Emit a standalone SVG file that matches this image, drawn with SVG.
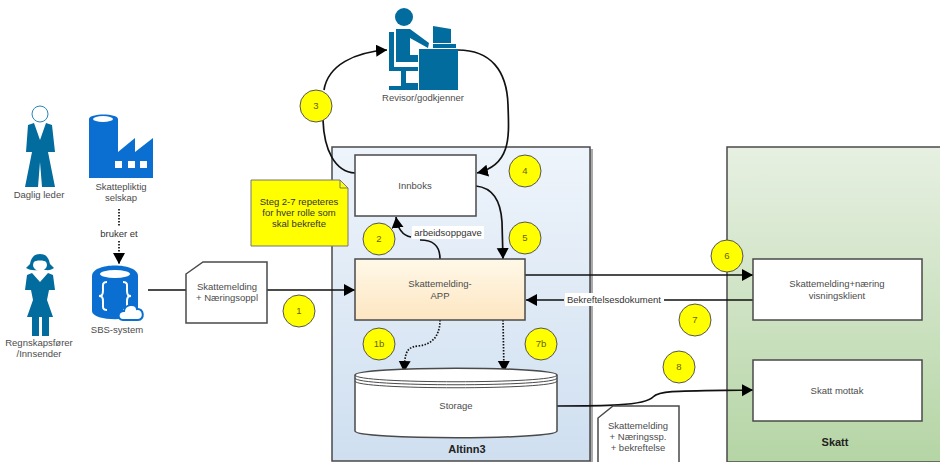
<svg xmlns="http://www.w3.org/2000/svg" width="940" height="462" viewBox="0 0 940 462">
<style>
text{font-family:"Liberation Sans",Arial,sans-serif;font-size:9.5px;fill:#4c4c4c;text-anchor:middle}
.b{font-weight:bold;font-size:11px;fill:#222}
.n{fill:#fff;stroke:#4a4a4a;stroke-width:1.5}
.c{fill:#ff0;stroke:#555;stroke-width:1}
.ct{fill:#665f10;font-size:9.5px}
.l{fill:none;stroke:#111;stroke-width:1.7}
.d{fill:none;stroke:#111;stroke-width:1.7;stroke-dasharray:1.5 1.5}
.i{fill:#036c9e}
.a{fill:#0a6fd0}
.br{fill:none;stroke:#fff;stroke-width:2}
</style>
<defs>
<linearGradient id="gb" x1="0" y1="0" x2="0" y2="1"><stop offset="0" stop-color="#eef4fb"/><stop offset="1" stop-color="#cfdff0"/></linearGradient>
<linearGradient id="gg" x1="0" y1="0" x2="0" y2="1"><stop offset="0" stop-color="#e7f0e2"/><stop offset="1" stop-color="#b5d5a5"/></linearGradient>
<linearGradient id="go" x1="0" y1="0" x2="0" y2="1"><stop offset="0" stop-color="#fff8e8"/><stop offset="1" stop-color="#fde6c2"/></linearGradient>
<marker id="ar" markerUnits="userSpaceOnUse" markerWidth="13" markerHeight="13" refX="11" refY="6" orient="auto"><path d="M0 0L11 6L0 12Z" fill="#000"/></marker>
</defs>

<g id="altinn3">
<rect x="590" y="149" width="3" height="313" fill="#aaa"/>
<rect x="332" y="147" width="258" height="314" fill="url(#gb)" stroke="#4a4a4a" stroke-width="1.500"/>
<text class="b" x="467" y="453">Altinn3</text>
</g>
<g id="skatt">
<rect x="727" y="147" width="215" height="315" fill="url(#gg)" stroke="#4a4a4a" stroke-width="1.500"/>
<text class="b" x="835" y="446">Skatt</text>
</g>

<g id="connectors">
<path class="d" d="M119 209V227"/>
<path class="d" d="M119 241V264" marker-end="url(#ar)"/>
<path class="l" d="M148 290H186M267 290H355" marker-end="url(#ar)"/>
<path class="l" d="M355 173C335 172 324 150 323 120M324 90C328 65 355 52 387 50" marker-end="url(#ar)"/>
<path class="l" d="M458 50C490 50 507 70 508 105C509 135 512 165 477 173" marker-end="url(#ar)"/>
<path class="l" d="M476 186C495 188 501 205 502 222L503 259" marker-end="url(#ar)"/>
<path class="l" d="M440 259C440 245 433 240 420 240" />
<path class="l" d="M411 237C405 236 398 231 396 217" marker-end="url(#ar)"/>
<path class="l" d="M525 275H753" marker-end="url(#ar)"/>
<path class="l" d="M753 300H664M564 300H526" marker-end="url(#ar)"/>
<path class="d" d="M440 320C440 338 430 345 418 346C405 347 405 355 404 372" marker-end="url(#ar)"/>
<path class="d" d="M503 320L504 372" marker-end="url(#ar)"/>
<path class="l" d="M557 406C600 406 645 406 653 397C660 390 680 391 753 390" marker-end="url(#ar)"/>
<rect x="412" y="226" width="72" height="13" fill="#fff"/>
<text x="448" y="236" style="fill:#333">arbeidsoppgave</text>
<rect x="565" y="293" width="98" height="13" fill="#fff"/>
<text x="614" y="303" style="fill:#333">Bekreftelsesdokument</text>
<text x="119" y="237" style="fill:#333">bruker et</text>
</g>

<g id="daglig-leder">
<path class="i" d="M34 123L40 140L46 123L52 125L55 152H48L55 187H42L40 162L38 187H25L32 152H26L28 125Z"/>
<circle cx="40" cy="114" r="8" fill="#fff" stroke="#2a86b5" stroke-width="1"/>
<text x="39" y="198">Daglig leder</text>
</g>
<g id="regnskapsforer">
<path class="i" d="M32 273L40 282L48 273L53 275L55 290H49L47 300L53 317H49V336H42V317H39V336H32V317H27L33 300L31 290H25L27 275Z"/>
<path class="i" d="M40 254C47 254 49 259 50 264L54 268C50 271 47 270 45 270C33 270 31 271 26 268L30 264C31 259 33 254 40 254Z"/>
<ellipse cx="40" cy="265" rx="7" ry="6" fill="#fff"/>
<path class="i" d="M33 262C36 260 44 260 47 262L46 258H34Z"/>
<text x="39" y="346">Regnskapsfører</text>
<text x="39" y="357">/Innsender</text>
</g>
<g id="skattepliktig">
<path class="a" d="M89 119C89 113 118 113 118 119V152L135 138V152L153 138V178H89Z"/>
<ellipse cx="103" cy="119" rx="10" ry="3" fill="#fff"/>
<rect x="115" y="161" width="7" height="7" fill="#fff"/><rect x="128" y="161" width="7" height="7" fill="#fff"/><rect x="140" y="161" width="7" height="7" fill="#fff"/>
<text x="121" y="190">Skattepliktig</text>
<text x="121" y="201">selskap</text>
</g>
<g id="sbs-system">
<path class="a" d="M92 276C92 262 138 262 138 276V311C138 322 92 322 92 311Z"/>
<ellipse cx="115" cy="274" rx="15" ry="4" fill="#fff"/>
<path class="br" d="M107 282C102 282 103 285 103 290C103 295 102 296 99 296C102 296 103 297 103 302C103 307 102 310 107 310"/>
<path class="br" d="M123 282C128 282 127 285 127 290C127 295 128 296 131 296C128 296 127 297 127 302C127 307 128 310 123 310"/>
<path d="M123 320C117 320 117 311 124 311C125 304 136 303 137 309C144 308 145 320 138 320Z" fill="#fff" stroke="#0a6fd0" stroke-width="2"/>
<text x="117" y="333">SBS-system</text>
</g>
<g id="doc-1">
<path class="n" d="M186 274L203 262H267V323H186Z"/>
<text x="227" y="290">Skattemelding</text>
<text x="227" y="301">+ Næringsoppl</text>
</g>
<g id="note">
<path d="M251 180H340L348 188V246H251Z" fill="#ff0" stroke="#777" stroke-width="1"/>
<path d="M340 180V188H348" fill="none" stroke="#777" stroke-width="1"/>
<text x="299" y="205" style="fill:#333">Steg 2-7 repeteres</text>
<text x="299" y="216" style="fill:#333">for hver rolle som</text>
<text x="299" y="227" style="fill:#333">skal bekrefte</text>
</g>
<g id="revisor">
<circle cx="404" cy="17" r="9" class="i"/>
<path class="i" d="M396 29H410L429 43L428 48L410 38V55H418V62H396V29Z"/>
<path class="i" d="M389 32H394V67H418V71H406V83H418V90H389V86H401V71H389Z"/>
<rect class="i" x="419" y="49" width="39" height="41"/>
<path class="i" d="M433 26L451 29V43H433Z"/>
<rect class="i" x="433" y="44" width="23" height="4"/>
<text x="423" y="101">Revisor/godkjenner</text>
</g>
<g id="innboks">
<rect class="n" x="355" y="155" width="121" height="61"/>
<text x="415" y="189">Innboks</text>
</g>
<g id="app">
<rect x="355" y="259" width="170" height="61" fill="url(#go)" stroke="#4a4a4a" stroke-width="1.500"/>
<text x="440" y="287">Skattemelding-</text>
<text x="440" y="299">APP</text>
</g>
<g id="storage">
<path class="n" d="M355 375C355 366 557 366 557 375V431C557 440 355 440 355 431Z"/>
<path d="M355 375C355 384 557 384 557 375M355 378C355 387 557 387 557 378M355 381C355 390 557 390 557 381" fill="none" stroke="#4a4a4a" stroke-width="1"/>
<text x="456" y="409">Storage</text>
</g>
<g id="doc-2">
<path class="n" d="M598 418L613 406H679V464H598Z"/>
<text x="638" y="429">Skattemelding</text>
<text x="638" y="440">+ Næringssp.</text>
<text x="638" y="451">+ bekreftelse</text>
</g>
<g id="visningsklient">
<rect class="n" x="753" y="259" width="169" height="61"/>
<text x="837" y="287">Skattemelding+næring</text>
<text x="837" y="299">visningsklient</text>
</g>
<g id="skatt-mottak">
<rect class="n" x="753" y="360" width="169" height="61"/>
<text x="837" y="394">Skatt mottak</text>
</g>
<g id="s3"><circle class="c" cx="316" cy="106" r="16"/><text class="ct" x="316" y="109">3</text></g>
<g id="s4"><circle class="c" cx="525" cy="171" r="16"/><text class="ct" x="525" y="174">4</text></g>
<g id="s2"><circle class="c" cx="379" cy="239" r="16"/><text class="ct" x="379" y="242">2</text></g>
<g id="s5"><circle class="c" cx="525" cy="238" r="16"/><text class="ct" x="525" y="241">5</text></g>
<g id="s1"><circle class="c" cx="299" cy="311" r="16"/><text class="ct" x="299" y="314">1</text></g>
<g id="s1b"><circle class="c" cx="379" cy="344" r="16"/><text class="ct" x="379" y="347">1b</text></g>
<g id="s7b"><circle class="c" cx="541" cy="344" r="16"/><text class="ct" x="541" y="347">7b</text></g>
<g id="s6"><circle class="c" cx="727" cy="256" r="16"/><text class="ct" x="727" y="259">6</text></g>
<g id="s7"><circle class="c" cx="695" cy="320" r="16"/><text class="ct" x="695" y="323">7</text></g>
<g id="s8"><circle class="c" cx="679" cy="367" r="16"/><text class="ct" x="679" y="370">8</text></g>
</svg>
